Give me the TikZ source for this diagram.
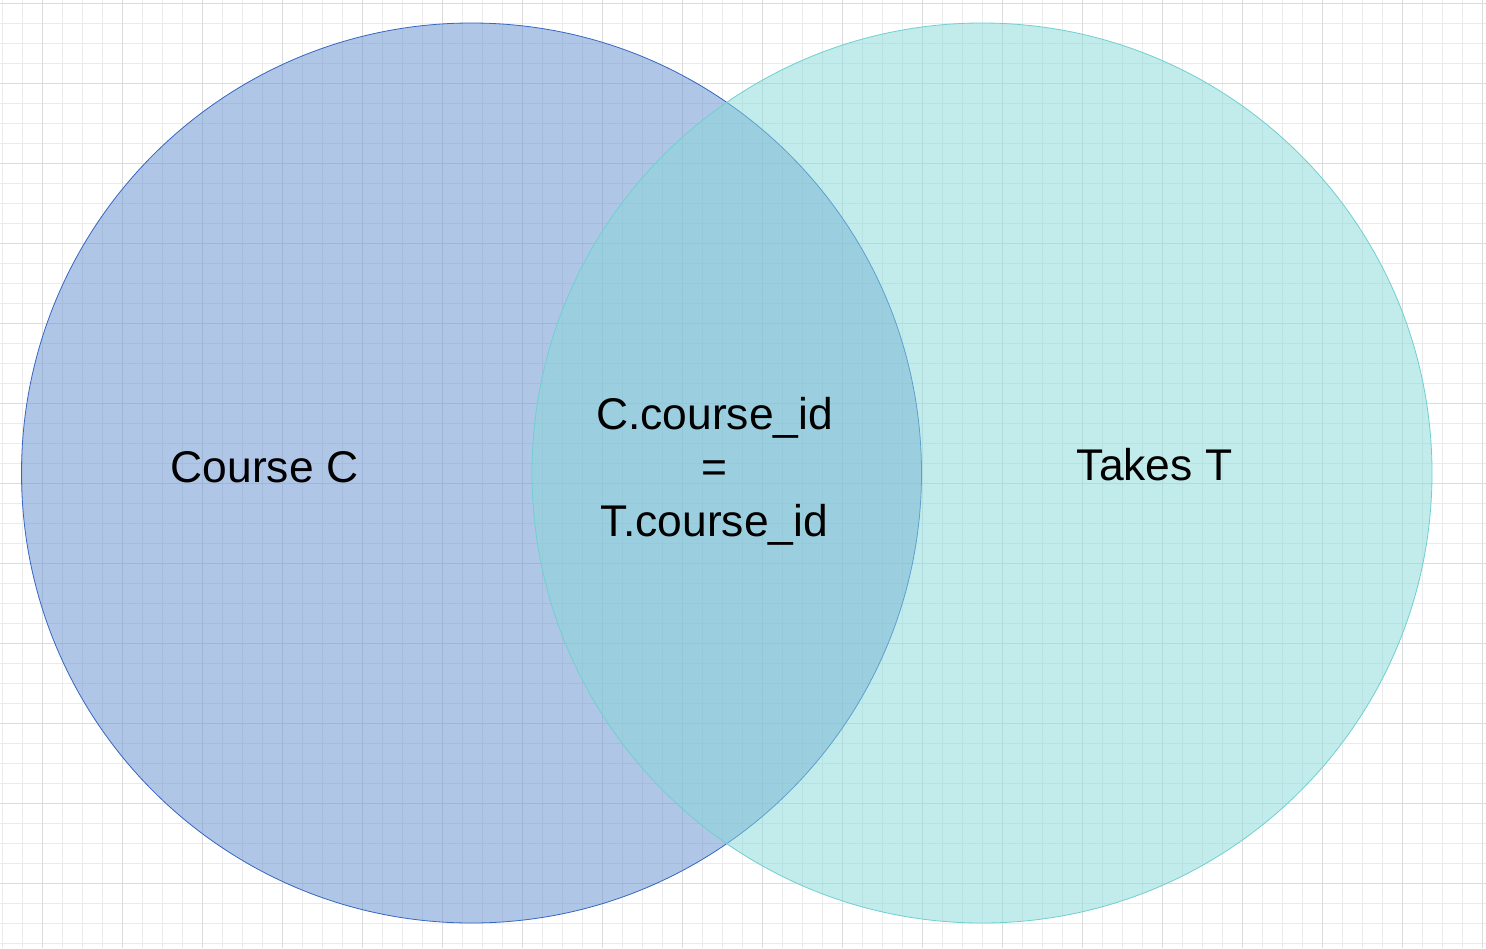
\documentclass[tikz,border=0pt]{standalone}
\usepackage{fontspec}
\setmainfont{Liberation Sans}
\definecolor{minorgrid}{HTML}{EBEBEB}
\definecolor{majorgrid}{HTML}{DCDCDC}
\definecolor{leftfill}{HTML}{638FD1}
\definecolor{rightfill}{HTML}{87D9D9}
\definecolor{leftline}{HTML}{3566C2}
\definecolor{rightline}{HTML}{6FD0D0}
\tikzset{
  setcircle/.style={circle, minimum size=900pt, inner sep=0pt, fill opacity=0.5, draw opacity=1, line width=0.8pt},
  label/.style={font=\fontsize{44.4}{53.5}\selectfont, align=center, text=black, inner sep=0pt}
}
\begin{document}
\begin{tikzpicture}[x=1pt,y=-1pt]
\useasboundingbox (0,0) rectangle (1486,948);
\fill[white] (0,0) rectangle (1486,948);
% grid
\foreach \x in {2.7,22.7,...,1486} \draw[minorgrid, line width=0.8pt] (\x,0) -- (\x,948);
\foreach \y in {3.3,23.3,...,948} \draw[minorgrid, line width=0.8pt] (0,\y) -- (1486,\y);
\foreach \x in {42.7,122.7,...,1486} \draw[majorgrid, line width=0.8pt] (\x,0) -- (\x,948);
\foreach \y in {3.3,83.3,...,948} \draw[majorgrid, line width=0.8pt] (0,\y) -- (1486,\y);
% circles
\node[setcircle, fill=leftfill, draw=leftline] (course) at (471.5,473) {};
\node[setcircle, fill=rightfill, draw=rightline] (takes) at (982,473) {};
% labels
\node[label] (courselabel) at (264.5,467) {Course C};
\node[label] (takeslabel) at (1154.5,465) {Takes T};
\node[label] (joinlabel) at (714.5,471) {C.course\_id\\=\\T.course\_id};
\end{tikzpicture}
\end{document}
